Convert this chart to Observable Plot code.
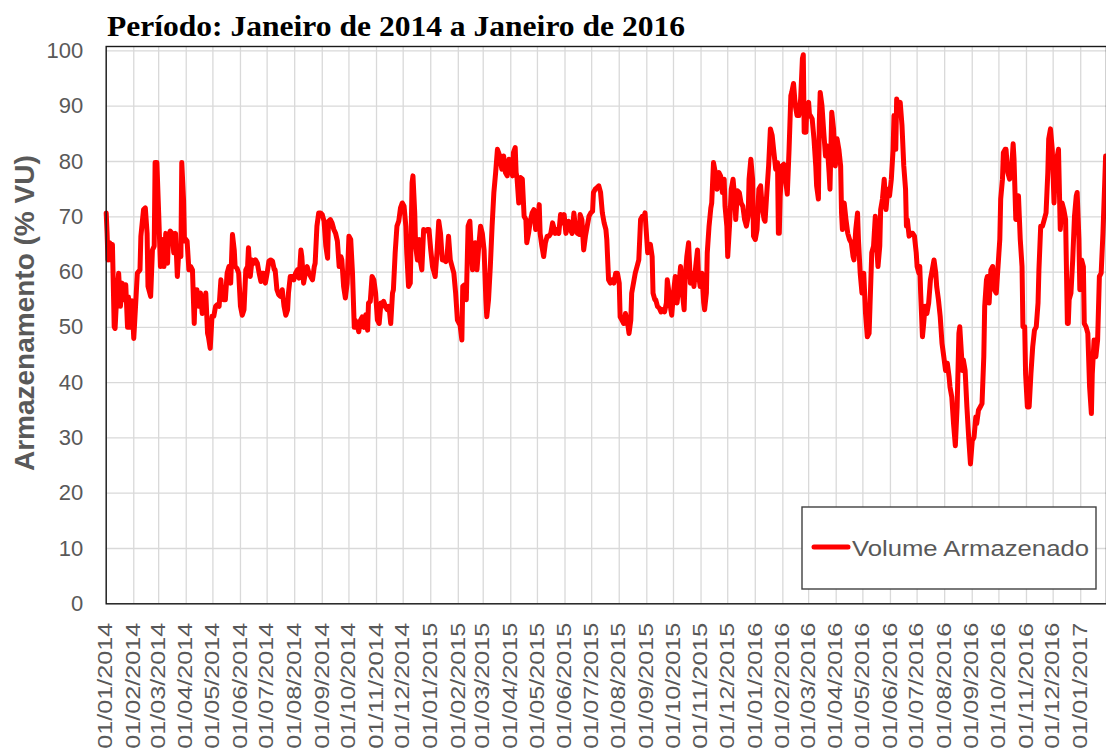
<!DOCTYPE html>
<html>
<head>
<meta charset="utf-8">
<script src="https://cdn.jsdelivr.net/npm/d3@7"></script>
<script src="https://cdn.jsdelivr.net/npm/@observablehq/plot@0.6"></script>
<style>
  html, body { margin: 0; padding: 0; background: #fff; }
  #wrap { position: relative; width: 1106px; height: 749px; overflow: hidden; }
  #overlay { position: absolute; left: 0; top: 0; pointer-events: none; }
</style>
</head>
<body>
<div id="wrap"></div>
<script>
// ---- Dados ----
const titulo = "Período: Janeiro de 2014 a Janeiro de 2016";
const tituloY = "Armazenamento (% VU)";
const nomeSerie = "Volume Armazenado";
const inicioISO = "2014-01-01";
const fimISO = "2017-01-30";
const ticksY = [0, 10, 20, 30, 40, 50, 60, 70, 80, 90, 100];

// dias decorridos desde 01/01/2014
const dias = [
  0,1,2,4,6,7,9,10,12,14, 16,18,20,22,24,25,27,29,31,33,
  35,38,39,42,44,46,47,50,52,54, 55,57,59,61,63,65,67,69,70,72,
  74,76,78,80,82,84,85,87,88,89, 91,93,95,97,99,100,102,104,106,108,
  110,112,114,115,117,119,121,123,125,127, 129,130,132,134,136,138,140,142,144,145,
  147,149,151,153,155,157,159,160,162,164, 166,168,170,172,174,175,177,179,181,183,
  185,187,189,190,192,194,196,198,200,202, 204,205,207,209,211,213,215,217,219,220,
  222,224,226,228,230,232,234,235,237,239, 241,243,245,247,249,250,252,254,256,258,
  260,262,264,265,267,269,271,273,275,277, 279,280,282,284,286,288,290,292,294,295,
  297,299,301,303,305,307,309,
  310,312,314,316,318,320,322,323,325,327, 329,331,333,335,337,338,340,342,344,345,
  347,348,350,352,353,355,357,359,361,363, 365,367,368,370,372,374,376,378,380,382,
  383,385,387,389,391,393,395,397,398,400, 401,403,405,407,409,410,412,413,415,417,
  419,421,423,425,427,428,430,432,434,436, 438,440,442,443,445,447,449,451,453,455,
  457,458,460,461,462,464,466,468,470,472, 473,475,477,479,481,483,485,487,488,490,
  492,494,496,498,500,502,503,505,507,509, 511,513,515,517,518,520,522,524,526,528,
  530,532,533,535,537,539,541,543,545,547, 548,550,552,554,556,558,560,562,563,565,
  567,569,571,573,575,577,578,580,582,584, 586,588,590,591,593,595,597,599,601,603,
  605,606,
  609,612,614,615,617,618,620,622,624,626, 628,630,631,633,635,636,638,640,642,644,
  646,648,650,651,653,655,657,659,661,663, 665,666,668,670,672,673,675,676,678,680,
  681,683,685,687,689,691,693,695,696,698, 699,701,703,705,707,708,710,712,714,716,
  718,720,722,723,725,727,728,730,732,734, 736,738,740,741,743,745,747,749,751,753,
  755,756,757,758,760,762,764,766,768,770, 771,773,775,777,779,781,783,784,785,787,
  788,790,
  791,792,794,796,798,799,801,802,803,805, 807,809,811,813,814,816,818,820,822,824,
  826,827,828,830,832,834,836,838,840,841, 843,845,846,848,850,852,854,856,858,859,
  861,863,865,866,868,870,871,873,875,877, 879,881,883,885,886,888,889,891,893,895,
  897,899,900,901,903,905,907,909,911,912, 914,915,916,918,919,921,923,925,927,929,
  931,933,934,936,938,940,942,944,946,948, 949,951,953,955,957,959,960,
  963,964,966,968,970,972,974,976,978,979, 981,983,985,987,988,990,991,993,995,997,
  999,1001,1003,1005,1006,1008,1009,1011,1012,1014, 1016,1018,1020,1021,1023,1025,1026,1028,1030,1031,
  1033,1034,1036,1038,1040,1042,1044,1046,1048,1049, 1051,1053,1055,1057,1059,1060,1062,1064,1066,1067,
  1069,1071,1073,1075,1077,1079,1081,1082,1083,1085, 1087,1089,1091,1092,1094,1095,1097,1099,1100,1102,
  1104,1106,1108,1109,1111,1113,1115,1117,1119,1121, 1123,1124
];

// Volume armazenado (% VU)
const volume = [
  70.7,67,62.2,65.3,62.2,65,50.1,49.8,56.2,59.8, 53.8,58,55,57.7,50,55.5,50,54.8,48,53.8,
  59.8,60.4,66.5,71.3,71.6,67,57.4,55.6,64,64.7, 79.8,79.8,70.7,61,65.9,61,67,61.6,66.5,67.4,
  67,63.5,67,59.2,64.7,62.8,79.8,73,65.6,66, 65.6,60.4,61,60.4,50.7,56.2,56.8,53.8,56.2,52.5,
  54.4,56.2,48.9,48.3,46.2,52,52,53.8,54.1,53.8, 58.6,56.2,55,55,59.8,61,58,66.8,64,61,
  60.7,59.8,53.8,52.2,53.2,60.4,61,64.4,59.2,62.2, 61.6,62.2,61.6,59.8,58.3,59.8,59.8,58,59.8,62,
  62.2,62,60.4,60.4,56.8,55.9,55.6,56.8,53.8,52.2, 53.2,56.2,59.2,59.2,58.6,59.8,60.4,58.9,64,62.8,
  58,59.8,61,59.8,59.2,58.6,61,61.6,68.3,70.7, 70.7,70.4,69.2,64.7,62.5,69.2,69.5,68.9,67.7,67,
  65.6,61,62.8,62.2,57.4,55.3,58,66.5,65.9,59.8, 50,51.3,50.7,49.2,51.3,51.9,50,52.3,49.5,54.4,
  54.7,59.2,58.6,56.2,51.3,50.7,54.4,
  53.8,54.7,53.8,53.2,53.8,50.7,56.2,56.8,63.5,68.3, 69.2,71.6,72.5,71.9,68.3,63.5,57.4,58,76.2,77.4,
  70.7,64.7,62.2,65.9,62.2,60.4,67.7,67.4,67.7,67.7, 64,61,60.4,59.2,63.5,69.2,67,62.2,62.2,61.9,
  62.2,66.5,62.2,61,59.8,56.2,51.3,50.7,50.4,47.7, 57.4,57.7,55,68.3,69.2,65.9,60.4,63.5,65.3,60.4,
  64.7,68.3,67,64,55,51.9,55,61,68.3,74.4, 78,82.2,81.3,80.4,78.6,81,78,77.4,80.4,79.2,
  77.4,81.6,82.5,78,77.1,72.5,77.1,76.8,70.1,69.5, 65.3,67,69.2,70.7,71.3,67.7,68.3,72.2,67,64.7,
  62.8,65.3,66.5,66.5,67,68.9,68.3,67,67.7,67, 70.4,68.9,70.4,67,67.7,69.2,67.7,67,70.7,67.7,
  67,66.8,70.4,69.5,64,66.5,68.3,70.1,70.7,71, 74.4,75,75.3,75.6,74.4,70.7,68.9,67.7,65.9,58.6,
  58,58.6,58,59.8,59.8,58,51.9,51.3,50.7,52.5, 51.3,48.9,51.3,56.2,58,59.8,61,62.2,69.5,70.1,
  70.1,70.7,
  63.5,65,62.8,56.2,55,55,53.8,53.5,52.8,53.2, 52.8,54.4,58.6,56.2,53.2,52.2,56.2,59.2,54.4,57.4,
  61,56.2,53.2,58.6,62.8,65.3,58,59.8,57.4,61, 64,59.8,57.4,59.8,54.4,53.2,56.2,63.5,68.3,71.6,
  72.5,79.8,78,75,78,77.4,74.4,76.8,71.9,68.3, 62.8,68.3,75,76.8,73.2,69.5,74.7,74.4,72.5,71.9,
  69.5,68.3,70.1,76.8,80.4,76.8,66.5,65.9,67.7,75, 75.6,71.3,69.5,69.2,74.4,79.2,85.9,84.7,81.6,78.6,
  79.8,67,67,73.8,79.2,79.5,76.8,74.1,82.2,91.9, 92.5,94.1,90.1,88.3,88.3,91.3,98.6,99.3,85.3,85.3,
  90.1,90.7,
  88.3,88.3,87.7,84.1,79.2,75.6,73.2,87.1,92.5,90.1, 85.3,81,82.8,78,75,88.9,85.9,79.2,84.1,82.2,
  79.2,70.7,67.7,72.5,69.5,67,65.9,65.3,62.8,62.2, 67.7,70.7,65.9,59.8,56.2,59.8,52.5,48.3,48.9,53.8,
  63.5,64.7,70.1,65.9,61,64.7,71.3,73.2,76.8,71.3, 75,73.8,76.8,82.2,88.3,82.2,91.3,89.5,90.7,86.5,
  79.2,75,68.3,69.5,66.5,67,67,66.5,63.5,61, 59.8,61,56.2,48.3,50,53.8,52.5,54.4,58.6,60.4,
  62.2,59.8,57.4,55,51.9,47.1,44.7,42.2,43.5,41, 39.2,37.4,32.5,28.6,35.6,48.9,50.1,
  42.2,44.1,42.2,35.6,30.1,25.3,29.5,30.1,33.8,32.6, 35,35.6,36.2,44.7,53.8,58.6,59.2,54.4,60.4,61,
  56.8,56.2,61,65.9,73.2,76.8,81.6,82.2,82.2,78, 76.8,78,83.2,80.4,69.5,69.5,73.8,65.9,61,50.1,
  50.1,41.6,35.6,35.6,41.6,46.5,49.5,50.1,54.4,60.4, 68.3,68.3,69.5,70.7,78,84.1,85.9,82.2,72.5,76.8,
  80.4,82.2,67.7,72.5,71.3,69.5,50.7,50.7,55,56.2, 62.2,70.1,73.8,74.4,65.9,56.8,62.2,61,50.7,50.1,
  48.9,39.2,34.4,41.6,47.7,44.7,47.7,59.2,59.8,67, 76.2,81
];

// ---- Construção ----
const inicio = new Date(inicioISO + "T00:00:00Z");
const fim = new Date(fimISO + "T00:00:00Z");
const dados = dias.map((d, i) => ({data: d3.utcDay.offset(inicio, d), volume: volume[i]}));
const meses = d3.utcMonth.range(inicio, d3.utcDay.offset(new Date("2017-01-01T00:00:00Z"), 1));

const fonte = '"Liberation Sans", Arial, sans-serif';

const chart = Plot.plot({
  width: 1106,
  height: 749,
  marginLeft: 105.7,
  marginRight: 0,
  marginTop: 46,
  marginBottom: 145.7,
  style: {fontFamily: fonte, color: "#595959", background: "#fff"},
  x: {type: "utc", domain: [inicio, fim]},
  y: {domain: [0, 100.8]},
  marks: [
    Plot.gridX({ticks: meses, stroke: "#d9d9d9", strokeOpacity: 1, strokeWidth: 1.3}),
    Plot.gridY({ticks: ticksY, stroke: "#d9d9d9", strokeOpacity: 1, strokeWidth: 1.3}),
    Plot.line(dados, {x: "data", y: "volume", stroke: "#ff0000", strokeWidth: 5,
                      strokeLinejoin: "round", strokeLinecap: "round"}),
    Plot.frame({stroke: "#1a1a1a", strokeWidth: 1.4}),
    Plot.axisX({ticks: meses, tickFormat: d3.utcFormat("%d/%m/%Y"), tickRotate: -90,
                tickSize: 0, tickPadding: 19, fontSize: 19.5, label: null}),
    Plot.axisY({ticks: ticksY, tickSize: 0, tickPadding: 23, fontSize: 22, label: null}),
    Plot.text([tituloY], {frameAnchor: "left", text: d => d, rotate: -90, dx: -81, dy: -12,
                          textAnchor: "middle", lineAnchor: "middle",
                          fontSize: 28, fontWeight: "bold", fill: "#595959"})
  ]
});

const wrap = document.getElementById("wrap");
wrap.appendChild(chart);

// rótulos do eixo X esticados como no original
d3.select(chart).selectAll('g[aria-label="x-axis tick label"] text')
  .attr("textLength", 126).attr("lengthAdjust", "spacingAndGlyphs");

// Título e legenda (sobreposição)
const ov = d3.select(wrap).append("svg")
  .attr("id", "overlay").attr("width", 1106).attr("height", 749);
ov.append("text")
  .attr("x", 107).attr("y", 36)
  .attr("font-family", '"Liberation Serif", "Times New Roman", serif')
  .attr("font-weight", "bold").attr("font-size", 30).attr("fill", "#000")
  .attr("textLength", 578).attr("lengthAdjust", "spacingAndGlyphs")
  .text(titulo);
const leg = ov.append("g");
leg.append("rect").attr("x", 802).attr("y", 507).attr("width", 294).attr("height", 82)
  .attr("fill", "#fff").attr("stroke", "#404040").attr("stroke-width", 1.4);
leg.append("line").attr("x1", 814).attr("x2", 848).attr("y1", 547).attr("y2", 547)
  .attr("stroke", "#ff0000").attr("stroke-width", 5).attr("stroke-linecap", "round");
leg.append("text").attr("x", 852).attr("y", 555.5)
  .attr("font-family", fonte).attr("font-size", 22).attr("fill", "#595959")
  .attr("textLength", 237).attr("lengthAdjust", "spacingAndGlyphs")
  .text(nomeSerie);
</script>
</body>
</html>
